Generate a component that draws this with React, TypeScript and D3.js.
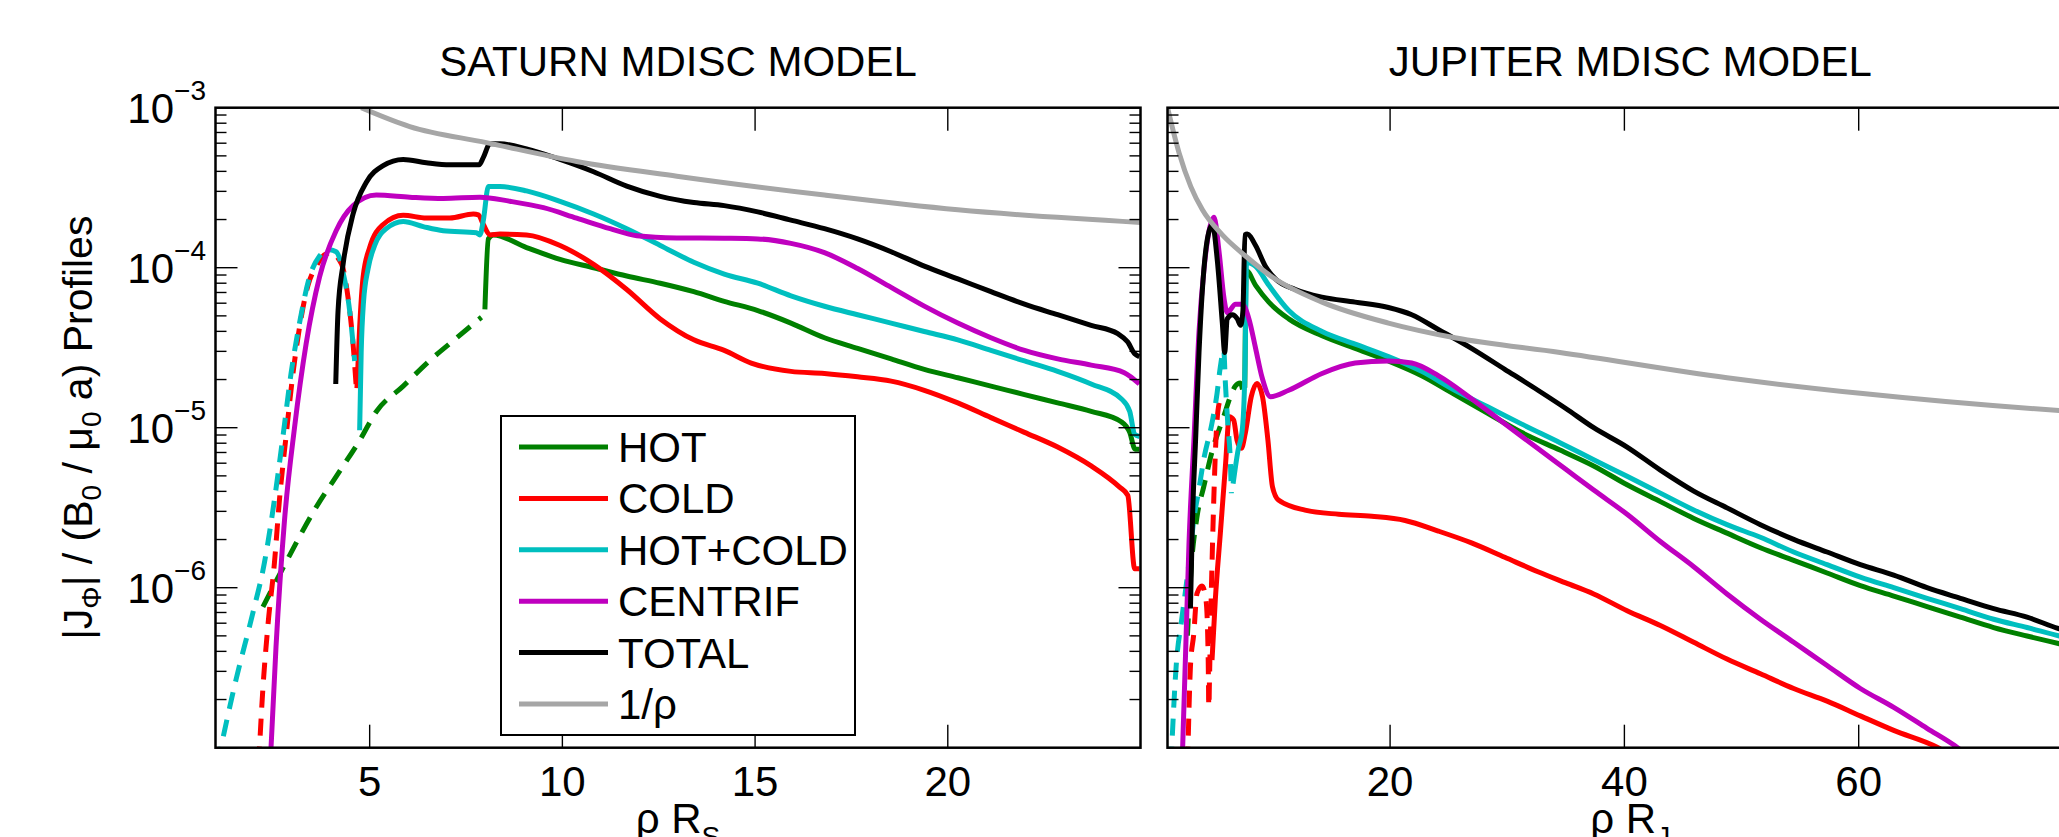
import * as d3 from "d3";

// values: [rho, log10 |J_phi| / (B0/mu0 a)]
const satHotDash = [[2.23,-6.12],[2.83,-5.84],[3.53,-5.53],[4.31,-5.24],[4.74,-5.08],[5.17,-4.9],[5.87,-4.74],[6.56,-4.58],[7.25,-4.44],[7.9,-4.31]];
const satHot = [[7.99,-4.26],[8.08,-3.82],[8.21,-3.795],[9.07,-3.874],[9.94,-3.948],[10.81,-4.0],[11.67,-4.052],[12.54,-4.097],[13.41,-4.15],[14.2,-4.21],[15.07,-4.268],[15.93,-4.346],[16.8,-4.438],[17.66,-4.504],[18.53,-4.57],[19.39,-4.635],[20.26,-4.688],[21.12,-4.74],[21.99,-4.793],[22.85,-4.845],[23.72,-4.898],[24.5,-4.963],[24.72,-5.029],[24.86,-5.134],[24.97,-5.134]];
const satColdDash = [[2.12,-7.1],[2.23,-6.63],[2.36,-6.236],[2.53,-5.843],[2.66,-5.449],[2.83,-5.055],[3.01,-4.661],[3.18,-4.373],[3.4,-4.11],[3.61,-3.992],[3.87,-3.913],[4.05,-3.906],[4.18,-3.94],[4.31,-4.005],[4.44,-4.189],[4.57,-4.478],[4.65,-4.74]];
const satCold = [[4.67,-4.753],[4.74,-4.373],[4.83,-4.058],[5.0,-3.874],[5.35,-3.73],[5.87,-3.672],[6.47,-3.69],[7.08,-3.69],[7.69,-3.664],[7.82,-3.67],[7.95,-3.73],[8.12,-3.795],[8.38,-3.79],[9.07,-3.795],[9.94,-3.861],[10.81,-3.979],[11.67,-4.136],[12.54,-4.32],[13.41,-4.451],[14.2,-4.517],[14.9,-4.596],[15.93,-4.648],[16.8,-4.661],[17.66,-4.682],[18.53,-4.709],[19.39,-4.766],[20.26,-4.845],[21.12,-4.937],[21.99,-5.029],[22.85,-5.121],[23.72,-5.239],[24.45,-5.37],[24.67,-5.423],[24.85,-5.882],[24.97,-5.882]];
const satHcDash = [[1.05,-7.1],[1.53,-6.577],[1.97,-6.157],[2.27,-5.843],[2.53,-5.449],[2.75,-5.055],[2.96,-4.661],[3.18,-4.346],[3.44,-4.058],[3.7,-3.927],[3.92,-3.887],[4.13,-3.9],[4.31,-4.03],[4.48,-4.268],[4.61,-4.583]];
const satHc = [[4.74,-5.016],[4.78,-4.53],[4.84,-4.215],[4.96,-4.005],[5.13,-3.861],[5.43,-3.756],[5.87,-3.711],[6.39,-3.743],[6.91,-3.769],[7.77,-3.782],[7.86,-3.795],[7.95,-3.703],[8.08,-3.493],[8.38,-3.493],[9.07,-3.52],[9.94,-3.585],[10.81,-3.664],[11.67,-3.756],[12.54,-3.861],[13.41,-3.966],[14.2,-4.04],[15.07,-4.097],[15.93,-4.176],[16.8,-4.241],[17.66,-4.294],[18.53,-4.346],[19.39,-4.399],[20.26,-4.451],[21.12,-4.517],[21.99,-4.583],[22.85,-4.648],[23.72,-4.727],[24.5,-4.819],[24.72,-4.898],[24.85,-5.042],[24.97,-5.055]];
const satCen = [[2.42,-7.1],[2.57,-6.37],[2.79,-5.58],[3.05,-5.0],[3.35,-4.478],[3.7,-4.058],[4.13,-3.769],[4.57,-3.612],[5.17,-3.546],[6.04,-3.559],[6.91,-3.567],[7.86,-3.559],[8.64,-3.585],[9.51,-3.625],[10.37,-3.69],[11.24,-3.756],[11.93,-3.8],[12.97,-3.814],[14.2,-3.816],[15.07,-3.82],[15.93,-3.848],[16.8,-3.906],[17.66,-4.005],[18.53,-4.123],[19.39,-4.24],[20.26,-4.346],[21.12,-4.438],[21.99,-4.517],[22.85,-4.57],[23.72,-4.609],[24.58,-4.656],[24.97,-4.727]];
const satTot = [[4.12,-4.727],[4.18,-4.268],[4.31,-3.979],[4.57,-3.664],[4.91,-3.467],[5.35,-3.362],[5.87,-3.323],[6.47,-3.344],[7.08,-3.357],[7.84,-3.357],[7.95,-3.31],[8.12,-3.226],[8.38,-3.226],[9.07,-3.257],[9.94,-3.323],[10.81,-3.4],[11.67,-3.49],[12.54,-3.554],[13.41,-3.593],[14.2,-3.612],[15.07,-3.651],[15.93,-3.703],[16.8,-3.756],[17.66,-3.82],[18.53,-3.9],[19.39,-3.99],[20.26,-4.07],[21.12,-4.15],[21.99,-4.228],[22.85,-4.294],[23.72,-4.36],[24.41,-4.412],[24.67,-4.465],[24.85,-4.538],[24.97,-4.556]];
const satInv = [[4.78,-3.0],[6.04,-3.118],[8.03,-3.218],[10.37,-3.336],[12.97,-3.428],[16.8,-3.546],[20.26,-3.638],[25.0,-3.717]];

const jupHotDash = [[2.7,-6.3],[3.0,-5.9],[3.52,-5.556],[4.09,-5.37],[4.8,-5.15],[5.8,-4.93],[6.4,-4.8],[6.79,-4.74],[7.21,-4.72],[7.5,-4.8]];
const jupHot = [[7.6,-4.75],[7.72,-4.018],[8.52,-4.11],[9.65,-4.215],[11.35,-4.32],[14.19,-4.425],[17.02,-4.504],[19.86,-4.583],[22.7,-4.675],[25.53,-4.793],[28.37,-4.911],[31.2,-5.029],[34.5,-5.14],[37.38,-5.239],[40.23,-5.357],[43.07,-5.462],[45.92,-5.567],[48.76,-5.659],[51.61,-5.75],[54.45,-5.829],[57.3,-5.908],[60.14,-5.987],[62.99,-6.052],[65.83,-6.118],[68.68,-6.184],[71.52,-6.249],[74.37,-6.302],[77.13,-6.35],[80,-6.4]];
const jupColdDashA = [[2.72,-7.1],[2.96,-6.49],[3.24,-6.29],[3.52,-6.035],[3.95,-5.99],[4.29,-6.08],[4.46,-6.39],[4.52,-6.74]];
const jupColdDashB = [[4.55,-6.7],[4.75,-6.0],[4.95,-5.45],[5.15,-5.05],[5.4,-4.85],[5.7,-4.8]];
const jupCold = [[4.8,-6.452],[5.08,-6.077],[5.51,-5.66],[5.94,-5.244],[6.28,-4.931],[6.65,-4.952],[6.93,-5.077],[7.3,-5.129],[7.64,-5.035],[8.15,-4.806],[8.63,-4.723],[9.11,-4.806],[9.57,-5.077],[9.96,-5.369],[10.47,-5.452],[12.74,-5.515],[15.61,-5.541],[18.44,-5.554],[21.28,-5.58],[24.11,-5.646],[26.95,-5.72],[29.79,-5.81],[32.62,-5.9],[35.0,-5.97],[37.38,-6.039],[40.23,-6.144],[43.07,-6.236],[45.92,-6.341],[48.76,-6.446],[51.61,-6.538],[54.45,-6.63],[57.3,-6.709],[60.14,-6.801],[62.99,-6.892],[66.69,-6.997],[67.5,-7.03]];
const jupHcDash = [[1.3,-7.1],[1.74,-6.49],[2.21,-6.2],[2.59,-5.99],[2.93,-5.785],[3.24,-5.577],[3.67,-5.39],[4.09,-5.2],[4.8,-4.97],[5.23,-4.785],[5.51,-4.62],[5.8,-4.515],[5.94,-4.72],[6.16,-4.99],[6.36,-5.2],[6.45,-5.41]];
const jupHc = [[6.6,-5.35],[7.0,-5.15],[7.4,-5.0],[7.62,-4.6],[7.7,-4.15],[7.74,-3.966],[8.52,-3.992],[9.65,-4.11],[11.35,-4.268],[14.19,-4.399],[17.02,-4.478],[19.86,-4.556],[22.7,-4.648],[25.53,-4.766],[28.37,-4.871],[31.2,-4.976],[34.54,-5.095],[37.38,-5.2],[40.23,-5.304],[43.07,-5.409],[45.92,-5.514],[48.76,-5.606],[51.61,-5.685],[54.45,-5.777],[57.3,-5.856],[60.14,-5.934],[62.99,-6.0],[65.83,-6.066],[68.68,-6.131],[71.52,-6.197],[74.37,-6.249],[77.13,-6.302],[80,-6.35]];
const jupCen = [[2.25,-7.1],[2.56,-6.37],[2.84,-5.711],[3.27,-5.055],[3.69,-4.399],[4.12,-4.005],[4.55,-3.769],[4.97,-3.685],[5.4,-3.9],[5.82,-4.189],[6.1,-4.281],[6.81,-4.228],[7.38,-4.228],[7.95,-4.32],[8.52,-4.504],[9.08,-4.688],[9.79,-4.806],[11.35,-4.766],[14.19,-4.661],[17.02,-4.596],[19.86,-4.583],[21.85,-4.596],[24.11,-4.675],[26.95,-4.819],[29.79,-4.976],[32.62,-5.13],[35.0,-5.26],[37.38,-5.39],[40.23,-5.541],[43.07,-5.711],[45.92,-5.869],[48.76,-6.039],[51.61,-6.197],[54.45,-6.341],[57.3,-6.486],[60.14,-6.63],[62.99,-6.748],[65.83,-6.879],[68.39,-6.997],[69,-7.03]];
const jupTot = [[2.96,-6.13],[3.13,-5.58],[3.41,-5.055],[3.69,-4.53],[3.98,-4.136],[4.4,-3.822],[4.83,-3.73],[5.25,-3.953],[5.68,-4.346],[5.88,-4.53],[6.1,-4.32],[6.53,-4.294],[6.96,-4.32],[7.24,-4.36],[7.44,-4.268],[7.61,-3.795],[7.81,-3.79],[8.52,-3.861],[9.37,-3.992],[10.22,-4.071],[11.92,-4.136],[14.19,-4.184],[17.02,-4.215],[19.86,-4.249],[21.85,-4.294],[24.11,-4.386],[26.95,-4.504],[29.79,-4.635],[32.62,-4.766],[35.0,-4.88],[37.38,-5.0],[40.23,-5.121],[43.07,-5.265],[45.92,-5.396],[48.76,-5.501],[51.61,-5.606],[54.45,-5.698],[57.3,-5.777],[60.14,-5.856],[62.99,-5.921],[65.83,-6.0],[68.68,-6.066],[71.52,-6.131],[74.37,-6.184],[77.13,-6.257],[80,-6.31]];
const jupInv = [[1.0,-3.0],[1.99,-3.283],[2.99,-3.493],[3.98,-3.638],[5.68,-3.795],[7.66,-3.927],[9.93,-4.058],[14.19,-4.215],[19.86,-4.346],[25.53,-4.438],[34.5,-4.53],[48.76,-4.688],[60.14,-4.785],[77.13,-4.892],[80,-4.905]];

const legendNames = ["HOT", "COLD", "HOT+COLD", "CENTRIF", "TOTAL", "1/\u03c1"];
const colors = ["#008000", "#ff0000", "#00bfbf", "#bf00bf", "#000000", "#a6a6a6"];
const satTicks = [5, 10, 15, 20];
const jupTicks = [20, 40, 60];
const yExponents = [-3, -4, -5, -6];

const FONT = '"Liberation Sans", Arial, Helvetica, sans-serif';
const W = 2059, H = 837;
const top = 107.7, bottom = 747.7;

const y = d3.scaleLog().domain([1e-7, 1e-3]).range([bottom, top]);
const satX = d3.scaleLinear().domain([1, 25]).range([215.5, 1140.5]);
const jupX = d3.scaleLinear().domain([1, 80]).range([1167.5, 2093]);

// [data, colour index, dashed]
const satSeries = [
  [satHotDash, 0, true], [satHot, 0, false],
  [satColdDash, 1, true], [satCold, 1, false],
  [satHcDash, 2, true], [satHc, 2, false],
  [satCen, 3, false], [satTot, 4, false], [satInv, 5, false],
];
const jupSeries = [
  [jupHotDash, 0, true], [jupHot, 0, false],
  [jupColdDashA, 1, true], [jupColdDashB, 1, true], [jupCold, 1, false],
  [jupHcDash, 2, true], [jupHc, 2, false],
  [jupCen, 3, false], [jupTot, 4, false], [jupInv, 5, false],
];

function Panel({ id, x, series, ticks, title, sub }) {
  const [x0, x1] = x.range();
  const line = d3.line()
    .x((d) => x(d[0]))
    .y((d) => y(Math.pow(10, d[1])))
    .curve(d3.curveMonotoneX);
  const yTicks = y.ticks();
  const cx = (x0 + x1) / 2;
  return (
    <g>
      <clipPath id={id}>
        <rect x={x0} y={top} width={x1 - x0} height={bottom - top} />
      </clipPath>
      <g clipPath={`url(#${id})`} fill="none" strokeWidth={5} strokeLinejoin="round">
        {series.map(([data, c, dashed], i) => (
          <path key={i} d={line(data)} stroke={colors[c]} strokeDasharray={dashed ? "17,11" : null} />
        ))}
      </g>
      {/* axes box and ticks */}
      <rect x={x0} y={top} width={x1 - x0} height={bottom - top} fill="none" stroke="#000" strokeWidth={2.5} />
      <g stroke="#000" strokeWidth={1.4}>
        {ticks.map((t) => (
          <g key={t}>
            <line x1={x(t)} x2={x(t)} y1={top} y2={top + 23} />
            <line x1={x(t)} x2={x(t)} y1={bottom} y2={bottom - 23} />
          </g>
        ))}
        {yTicks.map((t, i) => {
          const major = Math.abs(Math.log10(t) - Math.round(Math.log10(t))) < 1e-6;
          const len = major ? 22 : 11;
          return (
            <g key={i}>
              <line x1={x0} x2={x0 + len} y1={y(t)} y2={y(t)} />
              <line x1={x1} x2={x1 - len} y1={y(t)} y2={y(t)} />
            </g>
          );
        })}
      </g>
      <g fontFamily={FONT} fontSize={42} fill="#000" textAnchor="middle">
        {ticks.map((t) => (
          <text key={t} x={x(t)} y={796}>{t}</text>
        ))}
        <text x={cx} y={76}>{title}</text>
        <text x={cx} y={833}>
          {"\u03c1 R"}
          <tspan fontSize={28} dy={13}>{sub}</tspan>
        </text>
      </g>
    </g>
  );
}

export default function App() {
  const legendTop = 416, legendStep = 51.4;
  return (
    <svg width={W} height={H} style={{ position: "absolute", left: 0, top: 0, overflow: "hidden", background: "#fff" }}>
      <rect width={W} height={H} fill="#fff" />
      <Panel id="clipSat" x={satX} series={satSeries} ticks={satTicks} title="SATURN MDISC MODEL" sub="S" />
      <Panel id="clipJup" x={jupX} series={jupSeries} ticks={jupTicks} title="JUPITER MDISC MODEL" sub="J" />

      {/* y tick labels (left panel only) */}
      <g fontFamily={FONT} fill="#000" textAnchor="end">
        {yExponents.map((e) => (
          <text key={e} x={206} y={y(Math.pow(10, e)) + 15} fontSize={42}>
            10
            <tspan fontSize={28} dy={-23}>{"\u2212" + Math.abs(e)}</tspan>
          </text>
        ))}
      </g>

      {/* y axis label */}
      <text transform={`translate(92,${(top + bottom) / 2}) rotate(-90)`} textAnchor="middle" fontFamily={FONT} fontSize={41} fill="#000">
        |J<tspan fontSize={28} dy={9}>{"\u03a6"}</tspan>
        <tspan dy={-9}>| / (B</tspan>
        <tspan fontSize={28} dy={9}>0</tspan>
        <tspan dy={-9}>{" / \u03bc"}</tspan>
        <tspan fontSize={28} dy={9}>0</tspan>
        <tspan dy={-9}> a) Profiles</tspan>
      </text>

      {/* legend */}
      <g>
        <rect x={501} y={legendTop} width={354} height={319} fill="#fff" stroke="#000" strokeWidth={2} />
        {legendNames.map((name, i) => {
          const ly = legendTop + 31 + i * legendStep;
          return (
            <g key={name}>
              <line x1={519} x2={608} y1={ly} y2={ly} stroke={colors[i]} strokeWidth={5} />
              <text x={618} y={ly + 15} fontFamily={FONT} fontSize={42} fill="#000">{name}</text>
            </g>
          );
        })}
      </g>
    </svg>
  );
}
